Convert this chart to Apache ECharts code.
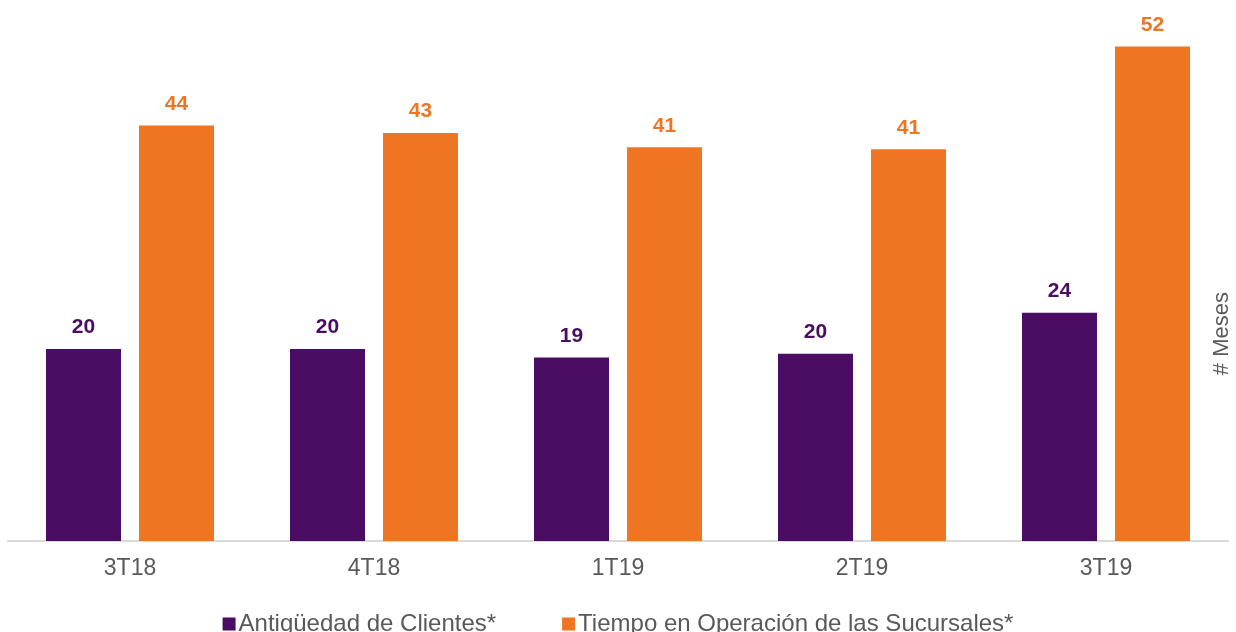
<!DOCTYPE html>
<html>
<head>
<meta charset="utf-8">
<script src="https://cdn.jsdelivr.net/npm/echarts@6/dist/echarts.min.js"></script>
<style>
html,body{margin:0;padding:0;background:#fff;}
#c{width:1236px;height:632px;}
</style>
</head>
<body>
<div id="c"></div>
<script>
const categories = ['3T18', '4T18', '1T19', '2T19', '3T19'];
const antiguedadClientes = [20.2, 20.2, 19.3, 19.7, 24.0];
const tiempoOperacion = [43.7, 42.9, 41.4, 41.2, 52.0];
const seriesNames = ['Antigüedad de Clientes*', 'Tiempo en Operación de las Sucursales*'];
const axisName = '# Meses';

const chart = echarts.init(document.getElementById('c'));
const font = 'Arial, "Liberation Sans", sans-serif';
chart.setOption({
  animation: false,
  textStyle: { fontFamily: font },
  grid: { left: 8, right: 8, top: 18, bottom: 91, containLabel: false },
  legend: {
    top: 607,
    left: 'center',
    itemWidth: 13,
    itemHeight: 13,
    itemGap: 66,
    icon: 'rect',
    textStyle: { fontSize: 24, color: '#595959', fontFamily: font, padding: [0, 0, 0, -2] },
    data: seriesNames
  },
  xAxis: {
    type: 'category',
    data: categories,
    axisLine: { lineStyle: { color: '#d9d9d9', width: 2 } },
    axisTick: { show: false },
    axisLabel: { fontSize: 23, color: '#595959', margin: 16, fontFamily: font }
  },
  yAxis: {
    type: 'value',
    min: 0,
    max: 55,
    show: false
  },
  graphic: [{
    type: 'text',
    left: 1211,
    top: 292,
    rotation: Math.PI / 2,
    style: { text: axisName, fontSize: 22, fill: '#595959', fontFamily: font }
  }],
  series: [
    {
      name: seriesNames[0],
      type: 'bar',
      data: antiguedadClientes,
      barWidth: 75,
      barGap: '24%',
      itemStyle: { color: '#4A0D63' },
      label: {
        show: true, position: 'top', distance: 11,
        fontSize: 21, fontWeight: 'bold', color: '#4A0D63', fontFamily: font,
        formatter: p => Math.round(p.value)
      }
    },
    {
      name: seriesNames[1],
      type: 'bar',
      data: tiempoOperacion,
      barWidth: 75,
      itemStyle: { color: '#EE7623' },
      label: {
        show: true, position: 'top', distance: 11,
        fontSize: 21, fontWeight: 'bold', color: '#EE7623', fontFamily: font,
        formatter: p => Math.round(p.value)
      }
    }
  ]
});
</script>
</body>
</html>
